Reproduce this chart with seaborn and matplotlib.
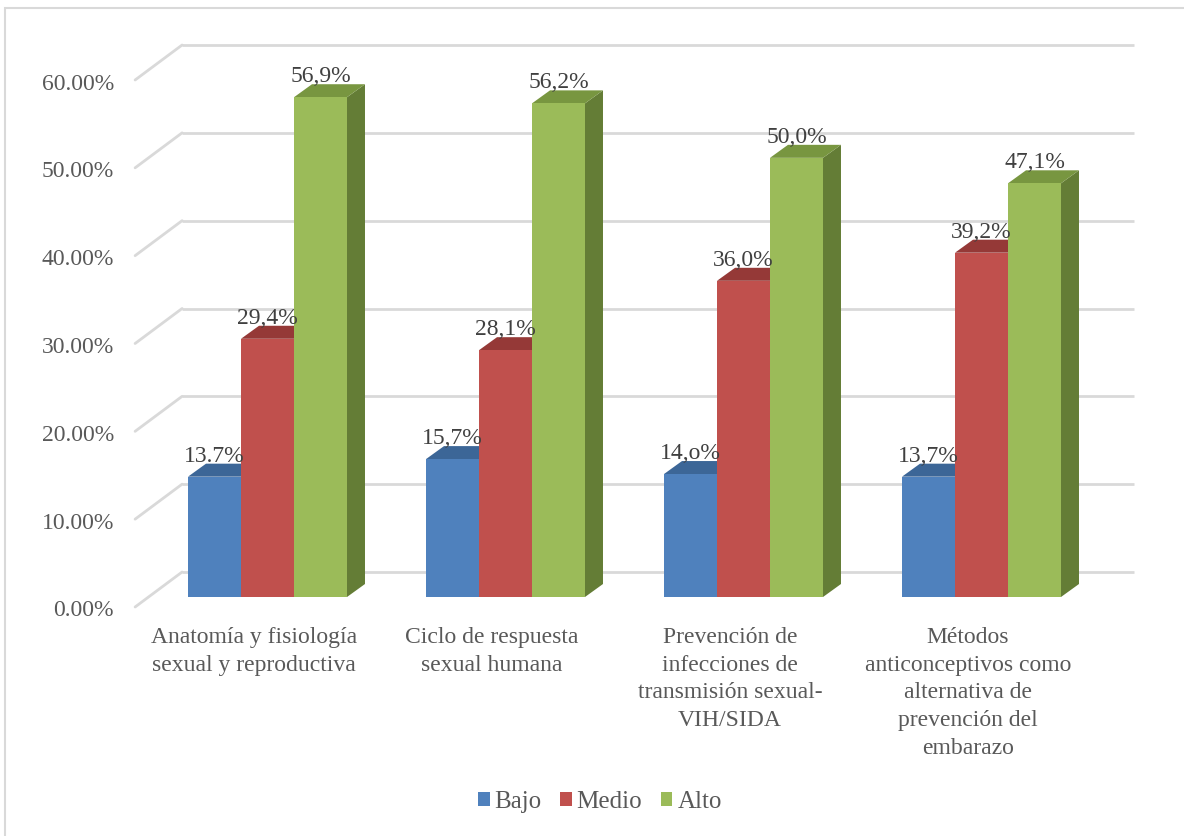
import matplotlib
matplotlib.use("Agg")
import matplotlib.pyplot as plt
from matplotlib.patches import Polygon, Patch, Rectangle
from matplotlib.lines import Line2D
from matplotlib.transforms import Affine2D, IdentityTransform
import seaborn as sns
import pandas as pd

# ---- data -------------------------------------------------------------
temas = [
    "Anatomía y fisiología\nsexual y reproductiva",
    "Ciclo de respuesta\nsexual humana",
    "Prevención de\ninfecciones de\ntransmisión sexual-\nVIH/SIDA",
    "Métodos\nanticonceptivos como\nalternativa de\nprevención del\nembarazo",
]
niveles = ["Bajo", "Medio", "Alto"]
bajo = [13.7, 15.7, 14.0, 13.7]
medio = [29.4, 28.1, 36.0, 39.2]
alto = [56.9, 56.2, 50.0, 47.1]
etiquetas_bajo = ["13.7%", "15,7%", "14,o%", "13,7%"]
etiquetas_medio = ["29,4%", "28,1%", "36,0%", "39,2%"]
etiquetas_alto = ["56,9%", "56,2%", "50,0%", "47,1%"]
ticks = [0, 10, 20, 30, 40, 50, 60]
tick_labels = ["0.00%", "10.00%", "20.00%", "30.00%", "40.00%", "50.00%", "60.00%"]

# ---- styling ----------------------------------------------------------
frente = ["#4F81BD", "#C0504D", "#9BBB59"]
tapa = ["#3C6697", "#953937", "#789640"]
lado = ["#365B87", "#7F2F2D", "#647D36"]
gris_txt = "#595959"
gris_lbl = "#404040"
gris_grid = "#D9D9D9"
FONT = "Liberation Serif"

W, H = 1184, 836
fig = plt.figure(figsize=(W / 100, H / 100), dpi=100)
sns.set_style("white")
plt.rcParams["font.family"] = [FONT, "DejaVu Serif"]

# axes holds the front plane of the columns
ax_left, ax_right = 148.5, 1100.5
ax_bottom_top, ax_top_top = 597, 70  # pixel rows (from top) for 0% and 60%
ax = fig.add_axes([ax_left / W, (H - ax_bottom_top) / H,
                   (ax_right - ax_left) / W, (ax_bottom_top - ax_top_top) / H])
ax.set_axis_off()

df = pd.DataFrame({
    "tema": temas * 3,
    "nivel": [n for n in niveles for _ in temas],
    "valor": bajo + medio + alto,
})
sns.barplot(data=df, x="tema", y="valor", hue="nivel", order=temas,
            hue_order=niveles, palette=frente, saturation=1, width=0.668,
            errorbar=None, legend=False, ax=ax, linewidth=0)
ax.set_xlim(-0.5, len(temas) - 0.5)
ax.set_ylim(0, 60)
fig.canvas.draw()

# 3D geometry (pixels): back wall and front edge relative to the column plane
back_dx, back_dy = 33.6, 25.0
front_dx, front_dy = -13.4, -10.0
depth_dx, depth_dy = 18.0, 13.0

to_back = ax.transData + Affine2D().translate(back_dx, back_dy)
to_front = ax.transData + Affine2D().translate(front_dx, front_dy)

# gridlines on the back wall plus the diagonal on the left side wall
for t in ticks:
    ax.plot([-0.5, len(temas) - 0.5], [t, t], color=gris_grid, lw=2.0,
            transform=to_back, zorder=1, clip_on=False, solid_capstyle="butt")
    p_back = to_back.transform((-0.5, t))
    p_front = to_front.transform((-0.5, t))
    ax.add_artist(Line2D([p_front[0], p_back[0]], [p_front[1], p_back[1]],
                         color=gris_grid, lw=2.0, transform=IdentityTransform(),
                         zorder=1, clip_on=False))

# y tick labels on the front edge
lbl_tr = ax.transData + Affine2D().translate(front_dx - 21, front_dy - 4)
for t, s in zip(ticks, tick_labels):
    ax.text(-0.5, t, s, transform=lbl_tr, ha="right", va="center",
            fontsize=17, color=gris_txt, fontfamily=FONT)

# category labels below the front edge
cat_tr = ax.transData + Affine2D().translate(front_dx, front_dy - 20)
for i, tema in enumerate(temas):
    ax.text(i, 0, tema, transform=cat_tr, ha="center", va="top",
            multialignment="center", fontsize=17, color=gris_txt,
            fontfamily=FONT, linespacing=1.42)

# top and side faces + value labels
etiquetas = [etiquetas_bajo, etiquetas_medio, etiquetas_alto]
lab_tr = ax.transData + Affine2D().translate(0, depth_dy + 2)
for k, cont in enumerate(ax.containers):
    for j, bar in enumerate(cont.patches):
        x0 = bar.get_x()
        x1 = x0 + bar.get_width()
        h = bar.get_height()
        bar.set_zorder(4 + 2 * k)
        a = ax.transData.transform((x0, h))
        b = ax.transData.transform((x1, h))
        c = ax.transData.transform((x1, 0))
        top = [a, b, (b[0] + depth_dx, b[1] + depth_dy), (a[0] + depth_dx, a[1] + depth_dy)]
        side = [c, b, (b[0] + depth_dx, b[1] + depth_dy), (c[0] + depth_dx, c[1] + depth_dy)]
        ax.add_artist(Polygon(side, closed=True, facecolor=lado[k], edgecolor="none",
                              transform=IdentityTransform(), zorder=3 + 2 * k, clip_on=False))
        ax.add_artist(Polygon(top, closed=True, facecolor=tapa[k], edgecolor="none",
                              transform=IdentityTransform(), zorder=3 + 2 * k, clip_on=False))
        ax.text((x0 + x1) / 2, h, etiquetas[k][j], transform=lab_tr,
                ha="center", va="baseline", fontsize=17, color=gris_lbl,
                fontfamily=FONT, zorder=20)

# legend
handles = [Patch(facecolor=c, edgecolor="none", label=n) for c, n in zip(frente, niveles)]
fig.legend(handles=handles, loc="center", bbox_to_anchor=(600 / W, 34 / H), ncol=3,
           frameon=False, labelcolor=gris_txt, handlelength=0.45,
           handleheight=0.45, handletextpad=0.2, columnspacing=0.75,
           prop={"family": FONT, "size": 18})

# chart area border
fig.add_artist(Rectangle((5 / W, -0.1), 2, (H - 8) / H + 0.1, transform=fig.transFigure,
                         fill=False, edgecolor=gris_grid, lw=1.5))

fig.savefig("out.png", dpi=100, facecolor="white")
